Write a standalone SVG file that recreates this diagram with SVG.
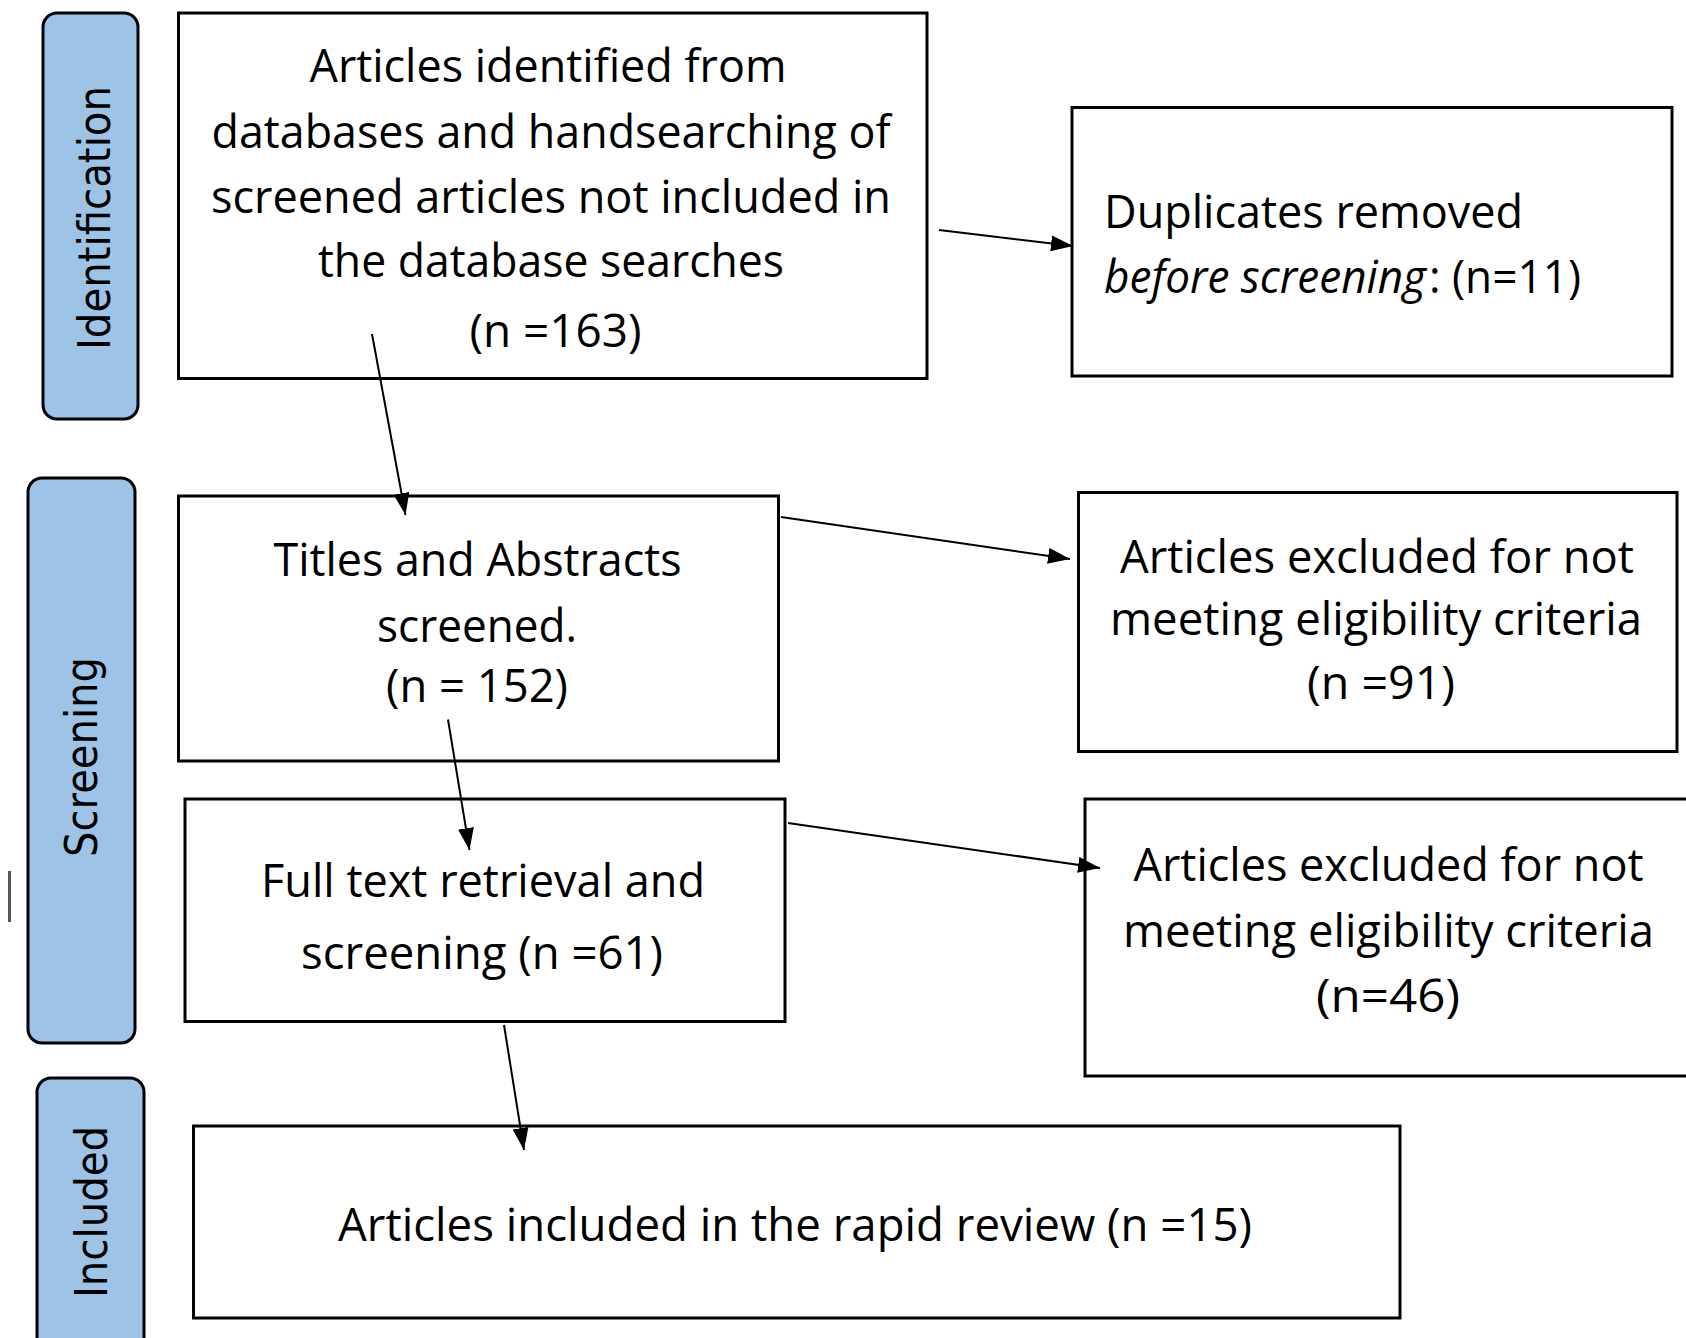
<svg xmlns="http://www.w3.org/2000/svg" width="1686" height="1338" viewBox="0 0 1686 1338">
<style>
.box{fill:#fff;stroke:#000;stroke-width:3}
.lane{fill:#9DC3E6;stroke:#000;stroke-width:3}
.t{font-family:"Open Sans","Liberation Sans",sans-serif;font-size:45px;fill:#000}
.c{text-anchor:middle}
.lt{font-family:"DejaVu Sans","Liberation Sans",sans-serif;font-size:45px;fill:#000;text-anchor:middle}
.conn{stroke:#000;stroke-width:2;fill:none;marker-end:url(#ah)}
</style>
<defs>
<marker id="ah" markerUnits="userSpaceOnUse" markerWidth="24" markerHeight="18" refX="22" refY="8" orient="auto">
<path d="M0,0 L22,8 L0,16 z" fill="#000"/>
</marker>
</defs>
<rect width="1686" height="1338" fill="#fff"/>

<g id="lane-identification">
<rect class="lane" x="43" y="13" width="95" height="406" rx="14"/>
<text class="lt" transform="translate(110,218) rotate(-90)" textLength="264" lengthAdjust="spacingAndGlyphs">Identification</text>
</g>
<g id="lane-screening">
<rect class="lane" x="28" y="478" width="107" height="565" rx="14"/>
<text class="lt" transform="translate(96.5,757) rotate(-90)" textLength="200" lengthAdjust="spacingAndGlyphs">Screening</text>
</g>
<g id="lane-included">
<rect class="lane" x="37" y="1078" width="107" height="290" rx="14"/>
<text class="lt" transform="translate(107,1212) rotate(-90)" textLength="172" lengthAdjust="spacingAndGlyphs">Included</text>
</g>
<line x1="9.5" y1="871" x2="9.5" y2="922" stroke="#555" stroke-width="3"/>

<g id="node-identified">
<rect class="box" x="178.5" y="13" width="748.5" height="365.5"/>
<text class="t c" x="548" y="82" textLength="477" lengthAdjust="spacingAndGlyphs">Articles identified from</text>
<text class="t c" x="551" y="148" textLength="679" lengthAdjust="spacingAndGlyphs">databases and handsearching of</text>
<text class="t c" x="551" y="212.5" textLength="680" lengthAdjust="spacingAndGlyphs">screened articles not included in</text>
<text class="t c" x="551" y="277" textLength="466" lengthAdjust="spacingAndGlyphs">the database searches</text>
<text class="t c" x="555.5" y="347" textLength="172" lengthAdjust="spacingAndGlyphs">(n =163)</text>
</g>

<g id="node-duplicates">
<rect class="box" x="1072" y="107.5" width="600" height="268.5"/>
<text class="t" x="1104" y="228" textLength="419" lengthAdjust="spacingAndGlyphs">Duplicates removed</text>
<text class="t" x="1104" y="293" font-style="italic" textLength="322" lengthAdjust="spacingAndGlyphs">before screening</text>
<text class="t" x="1429" y="293" textLength="152" lengthAdjust="spacingAndGlyphs">: (n=11)</text>
</g>

<g id="node-titles">
<rect class="box" x="178.5" y="496" width="600" height="265"/>
<text class="t c" x="477.5" y="576" textLength="408" lengthAdjust="spacingAndGlyphs">Titles and Abstracts</text>
<text class="t c" x="477" y="641.5" textLength="200" lengthAdjust="spacingAndGlyphs">screened.</text>
<text class="t c" x="477" y="702" textLength="182" lengthAdjust="spacingAndGlyphs">(n = 152)</text>
</g>

<g id="node-excluded-91">
<rect class="box" x="1078.5" y="492.5" width="598.5" height="259"/>
<text class="t c" x="1377" y="573" textLength="514" lengthAdjust="spacingAndGlyphs">Articles excluded for not</text>
<text class="t c" x="1376" y="635" textLength="532" lengthAdjust="spacingAndGlyphs">meeting eligibility criteria</text>
<text class="t c" x="1381" y="699" textLength="148" lengthAdjust="spacingAndGlyphs">(n =91)</text>
</g>

<g id="node-fulltext">
<rect class="box" x="185" y="799" width="600" height="222.5"/>
<text class="t c" x="483" y="897" textLength="444" lengthAdjust="spacingAndGlyphs">Full text retrieval and</text>
<text class="t c" x="482" y="969" textLength="362" lengthAdjust="spacingAndGlyphs">screening (n =61)</text>
</g>

<g id="node-excluded-46">
<rect class="box" x="1085" y="799" width="620" height="277"/>
<text class="t c" x="1388.5" y="881" textLength="510" lengthAdjust="spacingAndGlyphs">Articles excluded for not</text>
<text class="t c" x="1388.5" y="947" textLength="531" lengthAdjust="spacingAndGlyphs">meeting eligibility criteria</text>
<text class="t c" x="1388" y="1012" textLength="144" lengthAdjust="spacingAndGlyphs">(n=46)</text>
</g>

<g id="node-included">
<rect class="box" x="193.5" y="1126" width="1206.5" height="192"/>
<text class="t c" x="795" y="1241" textLength="914" lengthAdjust="spacingAndGlyphs">Articles included in the rapid review (n =15)</text>
</g>

<g id="connectors">
<line class="conn" x1="939" y1="230" x2="1073" y2="246"/>
<line class="conn" x1="372" y1="334" x2="405.5" y2="515"/>
<line class="conn" x1="781" y1="517" x2="1070" y2="559"/>
<line class="conn" x1="448" y1="719.5" x2="469.5" y2="850"/>
<line class="conn" x1="788" y1="823" x2="1100" y2="868"/>
<line class="conn" x1="504" y1="1025" x2="524" y2="1150"/>
</g>
</svg>
